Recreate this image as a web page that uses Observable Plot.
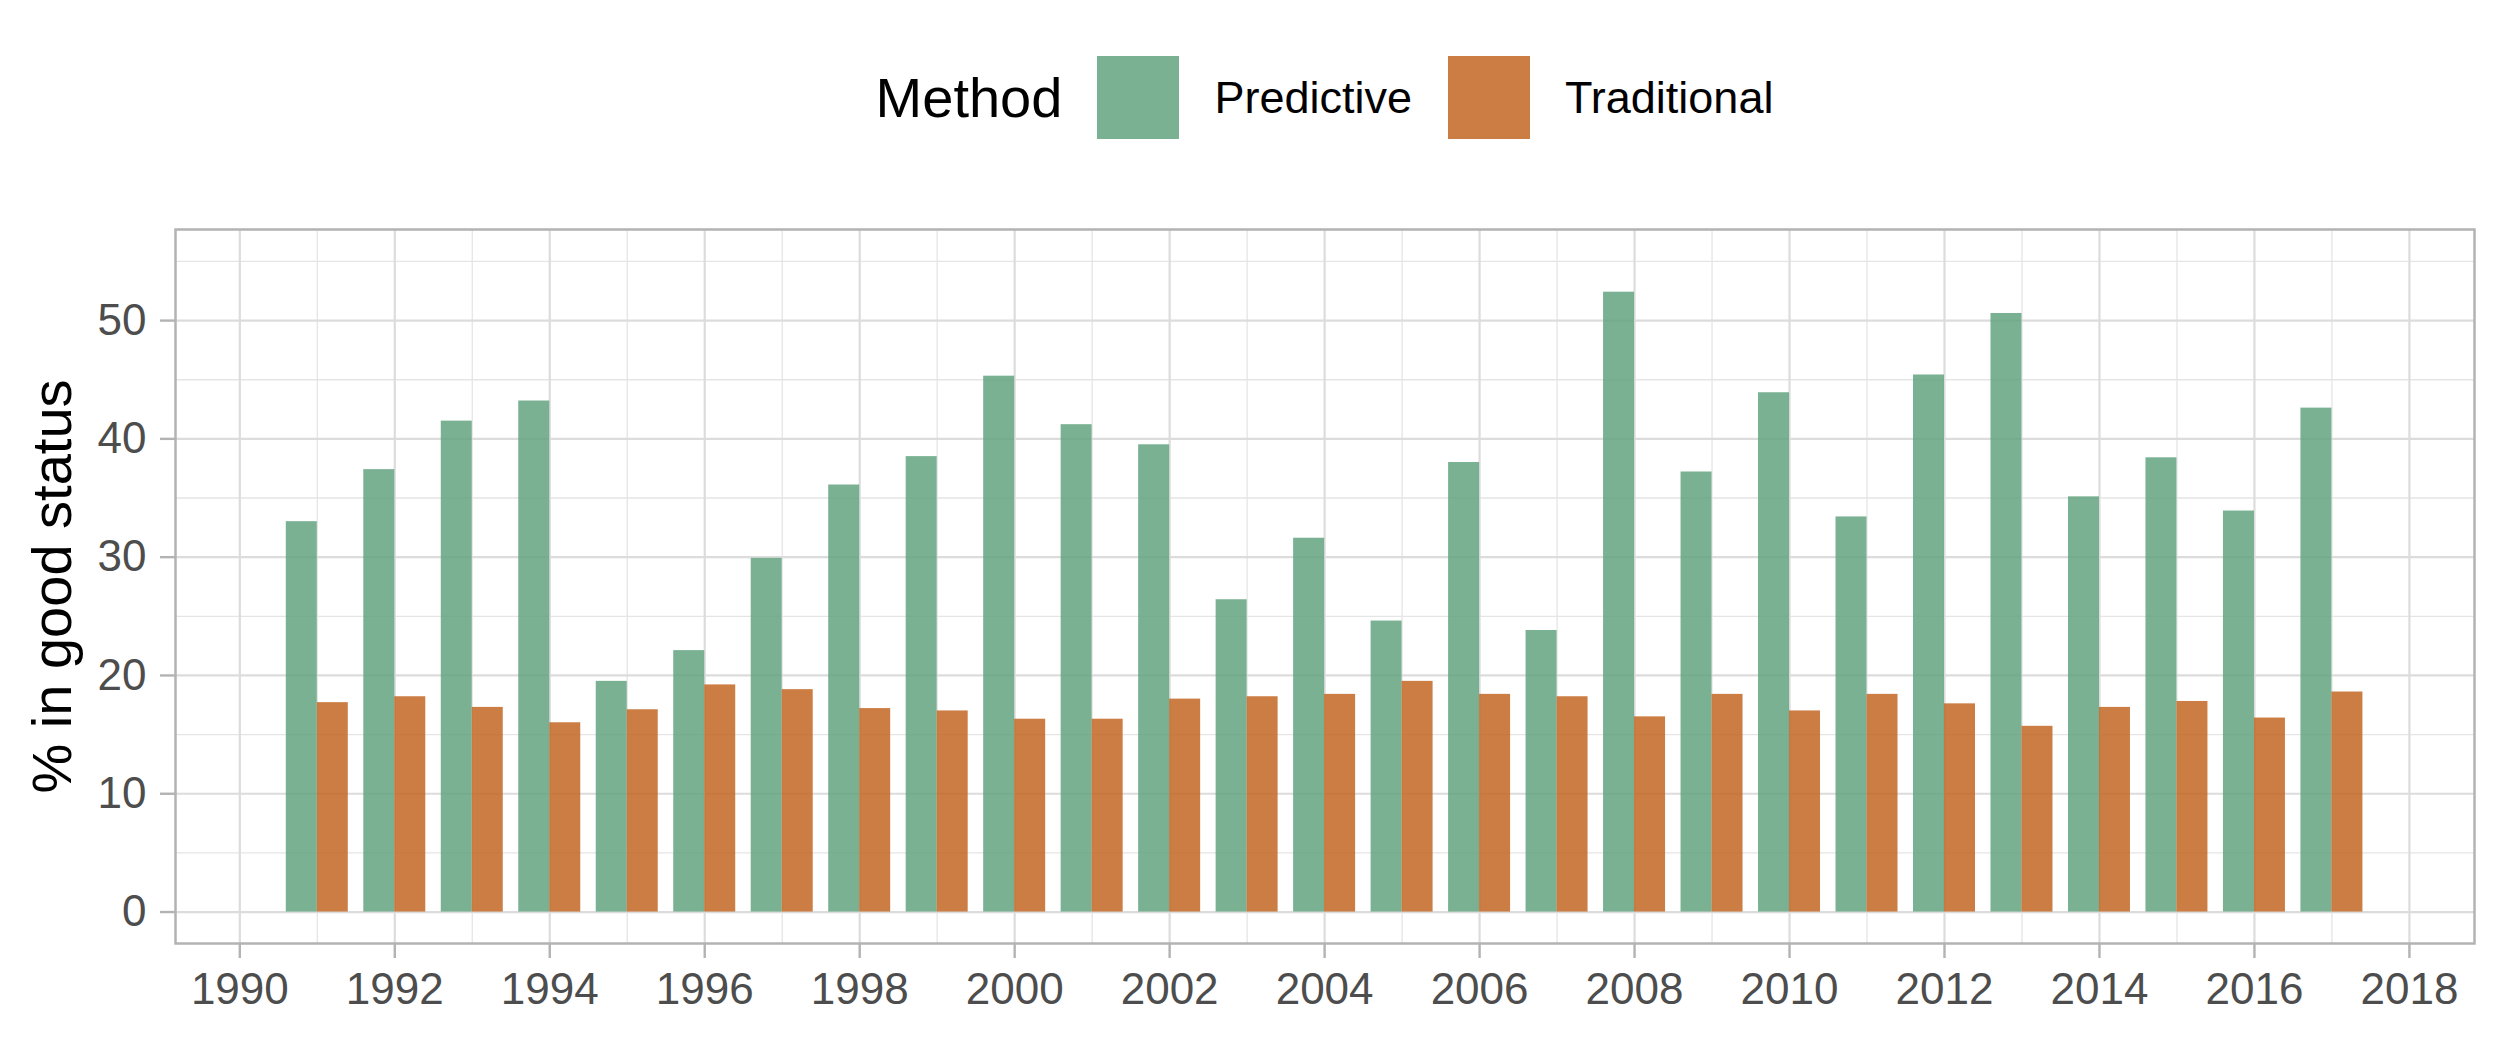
<!DOCTYPE html>
<html>
<head>
<meta charset="utf-8">
<script src="https://cdn.jsdelivr.net/npm/d3@7"></script>
<script src="https://cdn.jsdelivr.net/npm/@observablehq/plot@0.6"></script>
<style>
html, body { margin: 0; padding: 0; background: #fff; }
body { width: 2500px; height: 1042px; overflow: hidden; font-family: "Liberation Sans", Arial, Helvetica, sans-serif; }
#legend { height: 160px; box-sizing: border-box; padding: 35px 26px 0 175px; display: flex; justify-content: center; align-items: center; }
#legend .ttl { font-size: 56px; color: #000; margin-right: 35px; }
#legend .key { width: 82px; height: 83px; margin-right: 35px; }
#legend .lab { font-size: 45px; color: #000; margin-right: 36px; }
#legend .lab:last-child { margin-right: 0; }
#chart svg { display: block; }
</style>
</head>
<body>
<div id="legend"></div>
<div id="chart"></div>
<script>
const years = [1991,1992,1993,1994,1995,1996,1997,1998,1999,2000,2001,2002,2003,2004,2005,2006,2007,2008,2009,2010,2011,2012,2013,2014,2015,2016,2017];
const predictive = [33.0,37.4,41.5,43.2,19.5,22.1,29.9,36.1,38.5,45.3,41.2,39.5,26.4,31.6,24.6,38.0,23.8,52.4,37.2,43.9,33.4,45.4,50.6,35.1,38.4,33.9,42.6];
const traditional = [17.7,18.2,17.3,16.0,17.1,19.2,18.8,17.2,17.0,16.3,16.3,18.0,18.2,18.4,19.5,18.4,18.2,16.5,18.4,17.0,18.4,17.6,15.7,17.3,17.8,16.4,18.6];
const methods = ["Predictive", "Traditional"];
const methodColors = ["#62a37f", "#c26622"];
const legendColors = ["#7ab192", "#cb7d43"];
const xTicks = [1990,1992,1994,1996,1998,2000,2002,2004,2006,2008,2010,2012,2014,2016,2018];
const xMinor = [1991,1993,1995,1997,1999,2001,2003,2005,2007,2009,2011,2013,2015,2017];
const yTicks = [0,10,20,30,40,50];
const yMinor = [5,15,25,35,45,55];
const yTitle = "% in good status";
const legendTitle = "Method";

// legend
const lg = document.getElementById("legend");
const t = document.createElement("span"); t.className = "ttl"; t.textContent = legendTitle; lg.appendChild(t);
methods.forEach((m, i) => {
  const k = document.createElement("span"); k.className = "key"; k.style.background = legendColors[i]; lg.appendChild(k);
  const l = document.createElement("span"); l.className = "lab"; l.textContent = m; lg.appendChild(l);
});

const rows = [];
years.forEach((y, i) => {
  rows.push({year: y, method: methods[0], value: predictive[i], off0: -0.4, off1: 0});
  rows.push({year: y, method: methods[1], value: traditional[i], off0: 0, off1: 0.4});
});

const font = '"Liberation Sans", Arial, Helvetica, sans-serif';
const chart = Plot.plot({
  width: 2500,
  height: 882,
  marginTop: 69,
  marginBottom: 99,
  marginLeft: 175,
  marginRight: 26,
  style: {fontFamily: font, background: "#fff"},
  x: {domain: [1989.17, 2018.84]},
  y: {domain: [-2.66, 57.7]},
  color: {domain: methods, range: methodColors},
  marks: [
    Plot.ruleX(xMinor, {stroke: "#e5e5e5", strokeWidth: 1.3}),
    Plot.ruleY(yMinor, {stroke: "#e5e5e5", strokeWidth: 1.3}),
    Plot.ruleX(xTicks, {stroke: "#dcdcdc", strokeWidth: 2.2}),
    Plot.ruleY(yTicks, {stroke: "#dcdcdc", strokeWidth: 2.2}),
    Plot.rectY(rows, {
      x1: d => d.year + d.off0,
      x2: d => d.year + d.off1,
      y1: 0,
      y2: "value",
      fill: "method",
      fillOpacity: 0.85
    }),
    Plot.frame({stroke: "#b3b3b3", strokeWidth: 2.5}),
    Plot.axisX({ticks: xTicks, tickFormat: d => String(d), tickSize: 15, tickPadding: 14, fontSize: 44, stroke: "#b3b3b3", strokeWidth: 2.4, fill: "#4d4d4d", label: null}),
    Plot.axisY({ticks: yTicks, tickFormat: d => String(d), tickSize: 15, tickPadding: 14, fontSize: 44, stroke: "#b3b3b3", strokeWidth: 2.4, fill: "#4d4d4d", label: null}),
    Plot.text([yTitle], {text: d => d, frameAnchor: "left", rotate: -90, dx: -122, fontSize: 56, fill: "#000", lineAnchor: "middle", textAnchor: "middle"})
  ]
});
document.getElementById("chart").appendChild(chart);
</script>
</body>
</html>
